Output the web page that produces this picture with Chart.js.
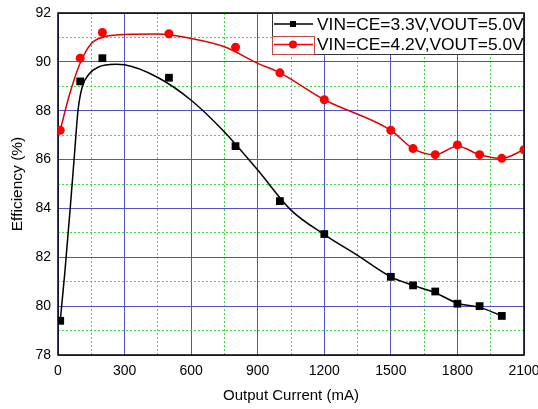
<!DOCTYPE html>
<html>
<head>
<meta charset="utf-8">
<script src="https://cdn.jsdelivr.net/npm/chart.js@4"></script>
<style>
  html, body { margin: 0; padding: 0; background: #fff; }
  #wrap { width: 538px; height: 409px; position: relative; }
</style>
</head>
<body>
<div id="wrap"><canvas id="chart"></canvas></div>
<script>
// ── Data ──────────────────────────────────────────────────────────────────────
const SERIES_33 = "VIN=CE=3.3V,VOUT=5.0V";
const SERIES_42 = "VIN=CE=4.2V,VOUT=5.0V";

// measured points
const current33 = [10, 100, 200, 500, 800, 1000, 1200, 1500, 1600, 1700, 1800, 1900, 2000];
const eff33     = [79.4, 89.2, 90.15, 89.35, 86.55, 84.3, 82.95, 81.2, 80.85, 80.6, 80.1, 80.0, 79.6];
const current42 = [10, 100, 200, 500, 800, 1000, 1200, 1500, 1600, 1700, 1800, 1900, 2000, 2100];
const eff42     = [87.2, 90.15, 91.2, 91.15, 90.6, 89.55, 88.45, 87.2, 86.45, 86.2, 86.6, 86.2, 86.05, 86.4];

// fitted curves
const fitX33 = [10, 30, 55, 75, 90, 110, 140, 180, 260, 300, 450, 600, 750, 900, 1050, 1200, 1350, 1500, 1600, 1700, 1800, 1900, 2000];
const fitY33 = [79.4, 81.3, 84.0, 86.3, 88.0, 89.0, 89.5, 89.78, 89.9, 89.88, 89.36, 88.43, 87.13, 85.57, 83.93, 82.93, 82.08, 81.2, 80.85, 80.55, 80.12, 79.95, 79.6];
const fitX42 = [10, 50, 100, 150, 200, 300, 450, 600, 750, 900, 1000, 1200, 1500, 1600, 1700, 1800, 1900, 2000, 2100];
const fitY42 = [87.2, 88.6, 89.95, 90.75, 91.0, 91.12, 91.14, 90.96, 90.62, 89.94, 89.55, 88.45, 87.2, 86.45, 86.2, 86.55, 86.2, 86.05, 86.4];

// axes
const xTicks      = [0, 300, 600, 900, 1200, 1500, 1800, 2100];
const xMinorTicks = [150, 450, 750, 1050, 1350, 1650, 1950];
const yTicks      = [78, 80, 82, 84, 86, 88, 90, 92];
const yMinorTicks = [79, 81, 83, 85, 87, 89, 91];

const pts = (xs, ys) => xs.map((x, i) => ({ x, y: ys[i] }));

const BLUE  = "#5252cc";
const GREEN = "#3ddc3d";
const FONT  = "Arial, 'Liberation Sans', sans-serif";

// ── Plugins ───────────────────────────────────────────────────────────────────
const frame = {
  id: "frame",
  beforeDatasetsDraw(chart) {
    const { ctx, chartArea: a } = chart;
    ctx.save();
    ctx.strokeStyle = "#000";
    ctx.lineWidth = 1.5;
    ctx.strokeRect(a.left, a.top, a.right - a.left, a.bottom - a.top);
    ctx.restore();
  }
};

const boxLegend = {
  id: "boxLegend",
  afterDatasetsDraw(chart) {
    const { ctx, chartArea: a } = chart;
    const left = 272, top = a.top, right = a.right, bottom = 55;
    ctx.save();
    ctx.fillStyle = "#fff";
    ctx.fillRect(left, top, right - left, bottom - top);
    ctx.strokeStyle = "#333";
    ctx.lineWidth = 1;
    ctx.strokeRect(left + 0.5, top + 0.5, right - left - 1, bottom - top - 1);

    const rows = [
      { label: SERIES_33, color: "#000", style: "rect", y: 24 },
      { label: SERIES_42, color: "#ff0000", style: "circle", y: 44.5 }
    ];
    rows.forEach(r => {
      ctx.strokeStyle = r.color;
      ctx.lineWidth = 1.5;
      ctx.beginPath();
      ctx.moveTo(274, r.y);
      ctx.lineTo(313, r.y);
      ctx.stroke();
      ctx.fillStyle = r.color;
      if (r.style === "rect") ctx.fillRect(290, r.y - 3, 6, 6);
      else { ctx.beginPath(); ctx.arc(293, r.y, 4, 0, Math.PI * 2); ctx.fill(); }
      ctx.fillStyle = "#000";
      ctx.font = "17.4px " + FONT;
      ctx.textBaseline = "middle";
      ctx.fillText(r.label, 317, r.y + 1);
    });
    // highlight box round the second sample
    ctx.strokeStyle = "#c04848";
    ctx.lineWidth = 1;
    ctx.strokeRect(272.5, 36.5, 42, 18);
    ctx.restore();
  }
};

// ── Chart ─────────────────────────────────────────────────────────────────────
const tickFont = { family: FONT, size: 14 };

new Chart(document.getElementById("chart"), {
  type: "scatter",
  data: {
    datasets: [
      { label: SERIES_33, data: pts(current33, eff33), pointStyle: "rect",
        pointRadius: 5.5, backgroundColor: "#000", borderColor: "#000", borderWidth: 0 },
      { label: SERIES_42, data: pts(current42, eff42), pointStyle: "circle",
        pointRadius: 4.5, backgroundColor: "#ff0000", borderColor: "#ff0000", borderWidth: 0 },
      { label: "fit33", data: pts(fitX33, fitY33), showLine: true, pointRadius: 0,
        borderColor: "#000", borderWidth: 1.5, cubicInterpolationMode: "monotone" },
      { label: "fit42", data: pts(fitX42, fitY42), showLine: true, pointRadius: 0,
        borderColor: "#e00000", borderWidth: 1.5, cubicInterpolationMode: "monotone" }
    ]
  },
  options: {
    responsive: true,
    maintainAspectRatio: false,
    animation: false,
    layout: { padding: { left: 4, right: 14, top: 13, bottom: 0 } },
    plugins: { legend: { display: false }, tooltip: { enabled: false } },
    scales: {
      x: {
        type: "linear", min: 0, max: 2100,
        afterBuildTicks: s => { s.ticks = xTicks.map(v => ({ value: v })); },
        afterFit: s => { s.height = 54; s.paddingLeft = 0; s.paddingRight = 0; },
        grid: { color: BLUE, lineWidth: 1, drawTicks: false },
        border: { display: false },
        ticks: { color: "#000", font: tickFont, padding: 8, maxRotation: 0,
                 callback: v => String(v) },
        title: { display: true, text: "Output Current (mA)", color: "#000",
                 font: { family: FONT, size: 15 }, padding: { top: 8 } }
      },
      x2: {
        type: "linear", position: "bottom", min: 0, max: 2100,
        afterBuildTicks: s => { s.ticks = xMinorTicks.map(v => ({ value: v })); },
        afterFit: s => { s.height = 0; s.paddingLeft = 0; s.paddingRight = 0; },
        grid: { color: GREEN, lineWidth: 1, drawTicks: false },
        border: { display: false, dash: [2, 2] },
        ticks: { display: false }
      },
      y: {
        type: "linear", min: 78, max: 92,
        afterBuildTicks: s => { s.ticks = yTicks.map(v => ({ value: v })); },
        afterFit: s => { s.width = 54; s.paddingTop = 0; s.paddingBottom = 0; },
        grid: { color: BLUE, lineWidth: 1, drawTicks: false },
        border: { display: false },
        ticks: { color: "#000", font: tickFont, padding: 7 },
        title: { display: true, text: "Efficiency (%)", color: "#000",
                 font: { family: FONT, size: 15.5 }, padding: { top: 4, bottom: 4 } }
      },
      y2: {
        type: "linear", position: "left", min: 78, max: 92,
        afterBuildTicks: s => { s.ticks = yMinorTicks.map(v => ({ value: v })); },
        afterFit: s => { s.width = 0; },
        grid: { color: GREEN, lineWidth: 1, drawTicks: false },
        border: { display: false, dash: [2, 2] },
        ticks: { display: false }
      }
    }
  },
  plugins: [frame, boxLegend]
});
</script>
</body>
</html>
